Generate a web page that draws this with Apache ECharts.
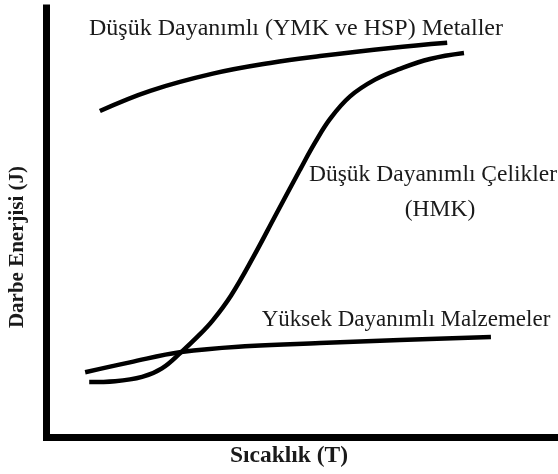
<!DOCTYPE html>
<html>
<head>
<meta charset="utf-8">
<script src="https://cdn.jsdelivr.net/npm/echarts@6/dist/echarts.min.js"></script>
<style>
  html, body { margin: 0; padding: 0; background: #fff; }
  #chart { width: 558px; height: 474px; }
</style>
</head>
<body>
<div id="chart"></div>
<script>
// curves, [temperature, energy] on a 0..100 scale
const metallerData = [[10.5, 76.0], [20.4, 80.7], [32.7, 84.7], [44.0, 87.2], [53.8, 88.8], [67.7, 90.7], [78.8, 91.9]]
const celiklerData = [[8.4, 12.8], [13.5, 13.0], [18.8, 14.0], [22.7, 16.0], [26.5, 19.8], [29.8, 23.5], [32.7, 27.2],
  [36.3, 33.0], [40.6, 41.8], [45.1, 51.8], [49.9, 62.4], [52.8, 68.6], [55.8, 74.2], [59.7, 79.4], [64.6, 83.3],
  [69.5, 85.8], [75.4, 88.1], [82.1, 89.5]]
const malzemeData = [[7.6, 15.1], [16.4, 17.4], [26.5, 19.8], [40.0, 21.2], [53.8, 21.9], [69.5, 22.6], [87.4, 23.3]]

const xName = 'Sıcaklık (T)'
const yName = 'Darbe Enerjisi (J)'
const labels = ['Düşük Dayanımlı (YMK ve HSP) Metaller', 'Düşük Dayanımlı Çelikler', '(HMK)', 'Yüksek Dayanımlı Malzemeler']

const font = '"Liberation Serif", "DejaVu Serif", serif'
const chart = echarts.init(document.getElementById('chart'))

function curve(data) {
  return {
    type: 'line',
    data: data,
    smooth: 0.4,
    symbol: 'none',
    lineStyle: { color: '#000', width: 4.5 },
    silent: true
  }
}

function txt(x, y, s, size, bold, rot) {
  return {
    type: 'text',
    x: x,
    y: y,
    rotation: rot || 0,
    style: {
      text: s,
      font: (bold ? 'bold ' : '') + size + 'px ' + font,
      fill: '#1a1a1a',
      textAlign: 'center',
      textVerticalAlign: 'middle'
    }
  }
}

const axisCommon = {
  type: 'value',
  min: 0,
  max: 100,
  axisLine: { show: true, lineStyle: { color: '#000', width: 7, cap: 'square' } },
  axisTick: { show: false },
  axisLabel: { show: false },
  splitLine: { show: false }
}

chart.setOption({
  animation: false,
  grid: { left: 46.5, right: 3, top: 8, bottom: 37, outerBoundsMode: 'none', containLabel: false },
  xAxis: axisCommon,
  yAxis: axisCommon,
  series: [curve(metallerData), curve(celiklerData), curve(malzemeData)],
  graphic: [
    txt(296, 29, labels[0], 24),
    txt(433, 175, labels[1], 23.5),
    txt(440, 210, labels[2], 23.5),
    txt(406, 320, labels[3], 23),
    txt(289, 456, xName, 23.5, true),
    txt(18, 247, yName, 21, true, Math.PI / 2)
  ]
})
</script>
</body>
</html>
